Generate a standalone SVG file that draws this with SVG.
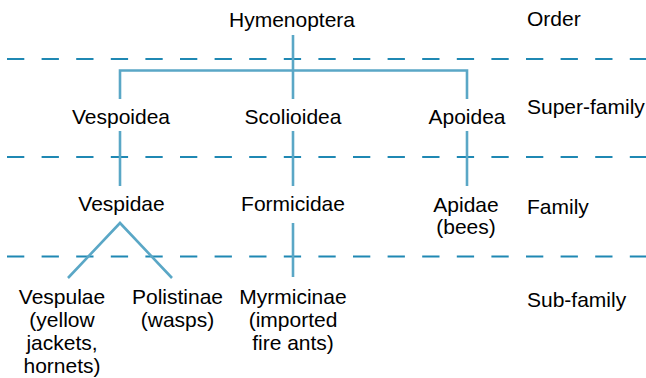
<svg xmlns="http://www.w3.org/2000/svg" width="646" height="378" viewBox="0 0 646 378">
<style>
text{font-family:"Liberation Sans",Arial,Helvetica,sans-serif;font-size:21px;fill:#000}
.n text{text-anchor:middle}
.dash{stroke:#1f88b3;stroke-width:2.2;stroke-dasharray:17.3 17.3;fill:none}
.conn{stroke:#5aa7c6;stroke-width:2.6;fill:none}
</style>
<rect width="646" height="378" fill="#fff"/>
<g id="rank-lines">
<line class="dash" x1="7" y1="59" x2="646" y2="59"/>
<line class="dash" x1="7" y1="157" x2="646" y2="157"/>
<line class="dash" x1="7" y1="256.5" x2="646" y2="256.5"/>
</g>
<g id="connectors">
<line class="conn" x1="293" y1="35" x2="293" y2="99"/>
<polyline class="conn" points="120,99 120,70.5 467,70.5 467,99"/>
<line class="conn" x1="120" y1="131" x2="120" y2="186"/>
<line class="conn" x1="293" y1="131" x2="293" y2="186"/>
<line class="conn" x1="467" y1="131" x2="467" y2="186"/>
<polyline class="conn" points="68,278 120,223 172,278"/>
<line class="conn" x1="293" y1="223" x2="293" y2="277"/>
</g>
<g class="n">
<g id="hymenoptera"><text x="292" y="27">Hymenoptera</text></g>
<g id="vespoidea"><text x="121" y="124">Vespoidea</text></g>
<g id="scolioidea"><text x="293" y="123.5">Scolioidea</text></g>
<g id="apoidea"><text x="467" y="124">Apoidea</text></g>
<g id="vespidae"><text x="121.5" y="211">Vespidae</text></g>
<g id="formicidae"><text x="293" y="211">Formicidae</text></g>
<g id="apidae"><text x="466" y="211.5">Apidae</text><text x="466" y="234">(bees)</text></g>
<g id="vespulae"><text x="62" y="303.5">Vespulae</text><text x="62" y="327">(yellow</text><text x="62" y="350">jackets,</text><text x="62" y="373">hornets)</text></g>
<g id="polistinae"><text x="177.5" y="303.5">Polistinae</text><text x="177.5" y="327">(wasps)</text></g>
<g id="myrmicinae"><text x="293" y="303.5">Myrmicinae</text><text x="293" y="327">(imported</text><text x="293" y="350">fire ants)</text></g>
</g>
<g id="rank-labels">
<text x="527" y="26">Order</text>
<text x="527" y="113.5">Super-family</text>
<text x="527" y="214">Family</text>
<text x="527" y="307">Sub-family</text>
</g>
</svg>
